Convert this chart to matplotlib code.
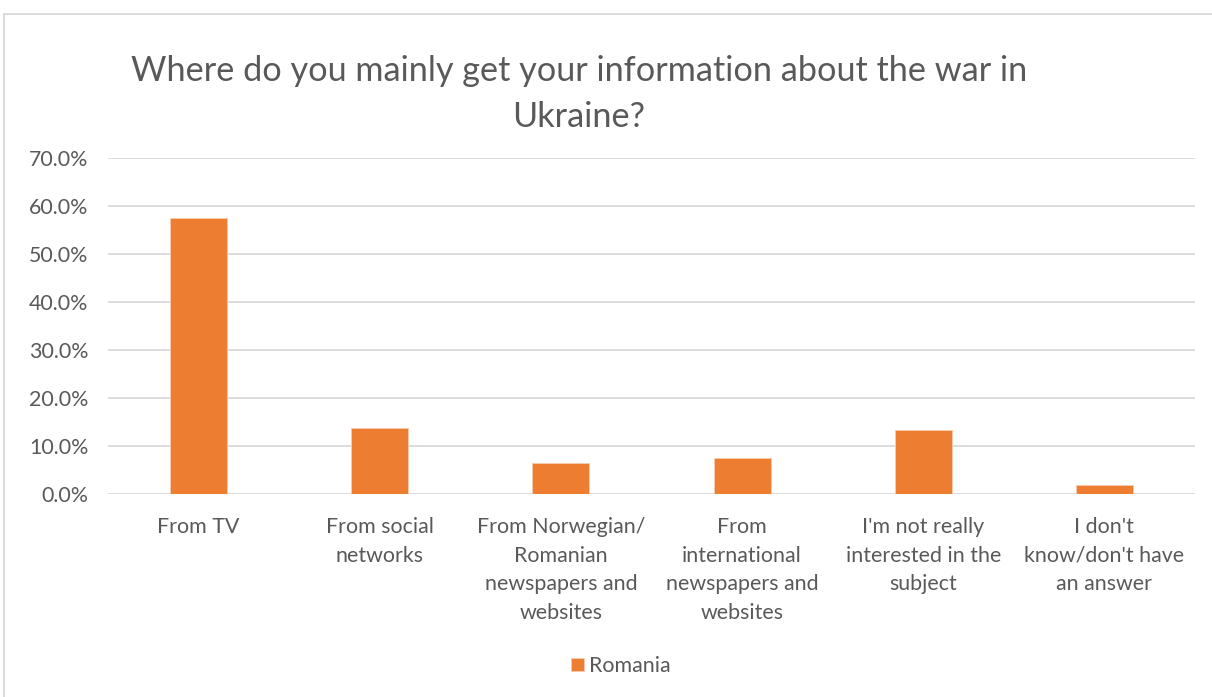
import matplotlib
matplotlib.use("Agg")
import matplotlib.pyplot as plt
from matplotlib.lines import Line2D
from matplotlib.ticker import PercentFormatter

plt.rcParams['font.family'] = ['Lato', 'DejaVu Sans']

categories = [
    "From TV",
    "From social\nnetworks",
    "From Norwegian/\nRomanian\nnewspapers and\nwebsites",
    "From\ninternational\nnewspapers and\nwebsites",
    "I'm not really\ninterested in the\nsubject",
    "I don't\nknow/don't have\nan answer",
]
romania = [57.5, 13.8, 6.4, 7.4, 13.2, 1.8]
yticks = [0, 10, 20, 30, 40, 50, 60, 70]

TEXT = "#595959"
ORANGE = "#ED7D31"
GRID = "#D9D9D9"

W, H = 1212, 697
fig = plt.figure(figsize=(W / 100, H / 100), dpi=100)
ax = fig.add_axes([108 / W, 1 - 493.7 / H, (1195 - 108) / W, (493.7 - 158.3) / H])

x = range(len(categories))
ax.bar(x, romania, width=0.315, color=ORANGE, edgecolor="#F8CBAD", linewidth=0.6,
       label="Romania", zorder=3)

ax.set_xlim(-0.5, len(categories) - 0.5)
ax.set_ylim(0, 70)
ax.set_yticks(yticks)
ax.yaxis.set_major_formatter(PercentFormatter(decimals=1))
ax.set_xticks(list(x))
ax.set_xticklabels(categories)
for t in ax.get_xticklabels():
    t.set_linespacing(1.53)
ax.tick_params(axis="both", length=0, colors=TEXT, labelsize=15.4)
ax.tick_params(axis="x", pad=17)
ax.tick_params(axis="y", pad=14)
ax.grid(axis="y", color=GRID, linewidth=1.3, zorder=0)
for s in ax.spines.values():
    s.set_visible(False)

fig.text(579 / W, 1 - 94 / H, "Where do you mainly get your information about the war in\nUkraine?",
         ha="center", va="center", fontsize=24.7, color=TEXT, linespacing=1.55)

fig.legend(loc="center", bbox_to_anchor=(621 / W, 1 - 666 / H), frameon=False,
           fontsize=15.4, labelcolor=TEXT, handlelength=0.6, handleheight=0.6,
           handletextpad=0.25)

# chart frame (top and left edges)
fig.add_artist(Line2D([4 / W, 1], [1 - 14 / H, 1 - 14 / H], color=GRID, linewidth=1.3))
fig.add_artist(Line2D([4 / W, 4 / W], [0, 1 - 14 / H], color=GRID, linewidth=1.3))

fig.savefig("out.png", dpi=100, facecolor="white")
